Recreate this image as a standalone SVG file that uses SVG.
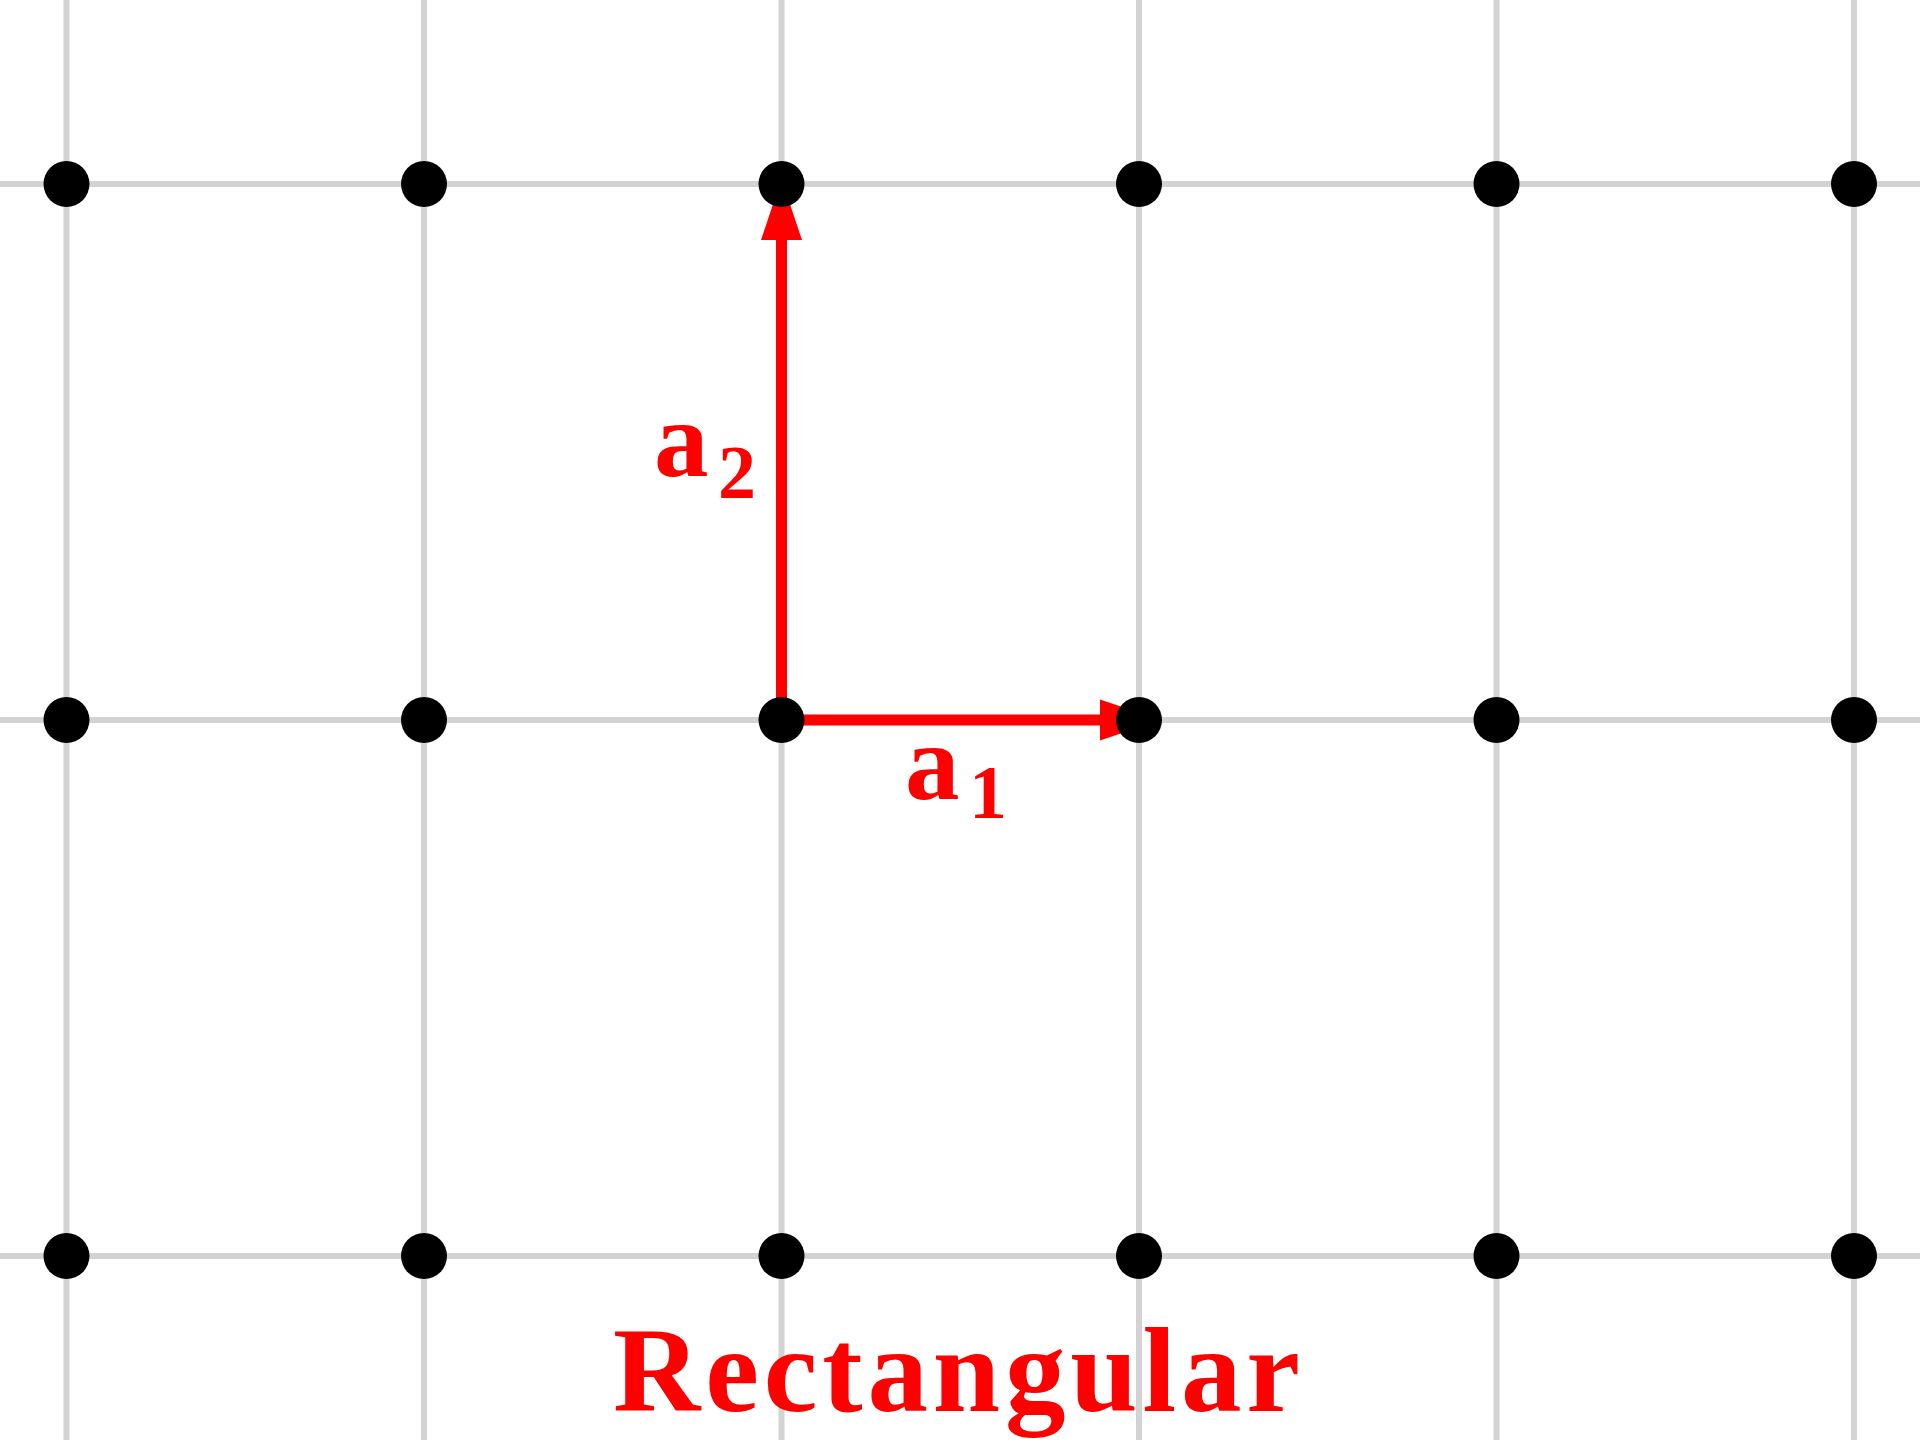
<svg xmlns="http://www.w3.org/2000/svg" width="1920" height="1440" viewBox="0 0 1920 1440">
  <style>
    .grid line { stroke: #d3d3d3; stroke-width: 6; }
    .dot { fill: #000000; }
    .vec { stroke: #ff0000; stroke-width: 11; fill: none; }
    .lbl { fill: #ff0000; font-family: "Liberation Serif", "DejaVu Serif", serif; font-weight: bold; }
  </style>
  <defs>
    <marker id="head" markerUnits="userSpaceOnUse" markerWidth="62" markerHeight="42" viewBox="0 -21 62 42" refX="1" refY="0" orient="auto">
      <path d="M0,-20.5 L61,0 L0,20.5 Z" fill="#ff0000"/>
    </marker>
  </defs>
  <rect width="1920" height="1440" fill="#ffffff"/>
  <g id="grid" class="grid">
    <line x1="66.5" y1="0" x2="66.5" y2="1440"/>
    <line x1="424" y1="0" x2="424" y2="1440"/>
    <line x1="781.5" y1="0" x2="781.5" y2="1440"/>
    <line x1="1139" y1="0" x2="1139" y2="1440"/>
    <line x1="1496.5" y1="0" x2="1496.5" y2="1440"/>
    <line x1="1854" y1="0" x2="1854" y2="1440"/>
    <line x1="0" y1="184" x2="1920" y2="184"/>
    <line x1="0" y1="720" x2="1920" y2="720"/>
    <line x1="0" y1="1256" x2="1920" y2="1256"/>
  </g>
  <g id="connectors">
    <line id="a2-vec" class="vec" x1="781.5" y1="720" x2="781.5" y2="239" marker-end="url(#head)"/>
    <line id="a1-vec" class="vec" x1="781.5" y1="720" x2="1101" y2="720" marker-end="url(#head)"/>
  </g>
  <g id="nodes">
    <g id="p-0-0"><circle class="dot" cx="66.5" cy="184" r="23"/></g>
    <g id="p-1-0"><circle class="dot" cx="424" cy="184" r="23"/></g>
    <g id="p-2-0"><circle class="dot" cx="781.5" cy="184" r="23"/></g>
    <g id="p-3-0"><circle class="dot" cx="1139" cy="184" r="23"/></g>
    <g id="p-4-0"><circle class="dot" cx="1496.5" cy="184" r="23"/></g>
    <g id="p-5-0"><circle class="dot" cx="1854" cy="184" r="23"/></g>
    <g id="p-0-1"><circle class="dot" cx="66.5" cy="720" r="23"/></g>
    <g id="p-1-1"><circle class="dot" cx="424" cy="720" r="23"/></g>
    <g id="p-2-1"><circle class="dot" cx="781.5" cy="720" r="23"/></g>
    <g id="p-3-1"><circle class="dot" cx="1139" cy="720" r="23"/></g>
    <g id="p-4-1"><circle class="dot" cx="1496.5" cy="720" r="23"/></g>
    <g id="p-5-1"><circle class="dot" cx="1854" cy="720" r="23"/></g>
    <g id="p-0-2"><circle class="dot" cx="66.5" cy="1256" r="23"/></g>
    <g id="p-1-2"><circle class="dot" cx="424" cy="1256" r="23"/></g>
    <g id="p-2-2"><circle class="dot" cx="781.5" cy="1256" r="23"/></g>
    <g id="p-3-2"><circle class="dot" cx="1139" cy="1256" r="23"/></g>
    <g id="p-4-2"><circle class="dot" cx="1496.5" cy="1256" r="23"/></g>
    <g id="p-5-2"><circle class="dot" cx="1854" cy="1256" r="23"/></g>
  </g>
  <g id="labels">
    <text class="lbl" x="654" y="476" font-size="109">a<tspan x="718" y="498" font-size="76">2</tspan></text>
    <text class="lbl" x="905" y="799" font-size="109">a<tspan x="969" y="818" font-size="76">1</tspan></text>
    <text class="lbl" x="613" y="1411" font-size="121" textLength="687" lengthAdjust="spacing">Rectangular</text>
  </g>
</svg>
